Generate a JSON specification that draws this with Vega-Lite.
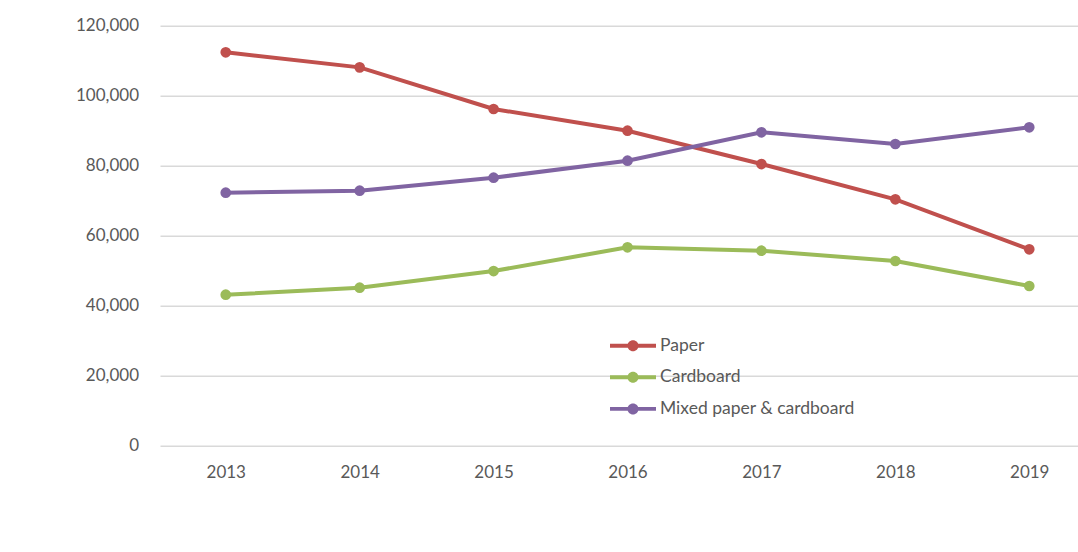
{
  "$schema": "https://vega.github.io/schema/vega-lite/v6.json",
  "width": 918,
  "height": 420,
  "autosize": {"type": "none"},
  "padding": {"left": 160, "top": 25.7, "right": 0, "bottom": 106.3},
  "background": "white",
  "config": {"view": {"stroke": null}, "font": "Lato"},
  "data": {
    "values": [
      {"year": 2013, "series": "Paper", "value": 112400},
      {"year": 2014, "series": "Paper", "value": 108100},
      {"year": 2015, "series": "Paper", "value": 96200},
      {"year": 2016, "series": "Paper", "value": 90000},
      {"year": 2017, "series": "Paper", "value": 80480},
      {"year": 2018, "series": "Paper", "value": 70400},
      {"year": 2019, "series": "Paper", "value": 56110},
      {"year": 2013, "series": "Cardboard", "value": 43140},
      {"year": 2014, "series": "Cardboard", "value": 45140},
      {"year": 2015, "series": "Cardboard", "value": 49910},
      {"year": 2016, "series": "Cardboard", "value": 56680},
      {"year": 2017, "series": "Cardboard", "value": 55710},
      {"year": 2018, "series": "Cardboard", "value": 52770},
      {"year": 2019, "series": "Cardboard", "value": 45630},
      {"year": 2013, "series": "Mixed paper &  cardboard", "value": 72280},
      {"year": 2014, "series": "Mixed paper &  cardboard", "value": 72850},
      {"year": 2015, "series": "Mixed paper &  cardboard", "value": 76570},
      {"year": 2016, "series": "Mixed paper &  cardboard", "value": 81420},
      {"year": 2017, "series": "Mixed paper &  cardboard", "value": 89540},
      {"year": 2018, "series": "Mixed paper &  cardboard", "value": 86200},
      {"year": 2019, "series": "Mixed paper &  cardboard", "value": 90970}
    ]
  },
  "encoding": {
    "x": {
      "field": "year",
      "type": "quantitative",
      "scale": {"domain": [2012.509, 2019.364], "nice": false, "zero": false},
      "axis": {
        "values": [2013, 2014, 2015, 2016, 2017, 2018, 2019],
        "format": "d",
        "title": null,
        "grid": false,
        "domain": false,
        "ticks": false,
        "tickSize": 0,
        "labelPadding": 19,
        "labelFontSize": 17,
        "labelColor": "#595959",
        "labelFlush": false,
        "labelFont": "Lato"
      }
    },
    "y": {
      "field": "value",
      "type": "quantitative",
      "scale": {"domain": [0, 120000], "nice": false},
      "axis": {
        "values": [0, 20000, 40000, 60000, 80000, 100000, 120000],
        "format": ",d",
        "title": null,
        "domain": false,
        "ticks": false,
        "tickSize": 0,
        "labelPadding": 21.5,
        "grid": true,
        "gridColor": "#D9D9D9",
        "gridWidth": 1.4,
        "labelFontSize": 17,
        "labelColor": "#595959",
        "labelFont": "Lato"
      }
    },
    "color": {
      "field": "series",
      "type": "nominal",
      "scale": {
        "domain": ["Paper", "Cardboard", "Mixed paper &  cardboard"],
        "range": ["#C0504D", "#9BBB59", "#8064A2"]
      },
      "legend": {
        "orient": "none",
        "legendX": 461.5,
        "legendY": 308.5,
        "title": null,
        "padding": 0,
        "symbolType": "M-2,-0.17H2V0.17H-2Z M-0.48,0A0.48,0.48 0 1,1 0.48,0A0.48,0.48 0 1,1 -0.48,0Z",
        "symbolSize": 529,
        "symbolStrokeWidth": 0,
        "symbolOpacity": 1,
        "labelFontSize": 17.5,
        "labelFont": "Lato",
        "labelColor": "#595959",
        "labelOffset": 15.5,
        "labelLimit": 500,
        "rowPadding": 11.6,
        "encode": {
          "symbols": {
            "update": {
              "fill": {"field": "value", "scale": "color"},
              "stroke": {"value": "transparent"},
              "opacity": {"value": 1}
            }
          }
        }
      }
    }
  },
  "layer": [
    {
      "mark": {"type": "line", "strokeWidth": 4}
    },
    {
      "mark": {"type": "point", "filled": true, "size": 115, "opacity": 1}
    }
  ]
}
